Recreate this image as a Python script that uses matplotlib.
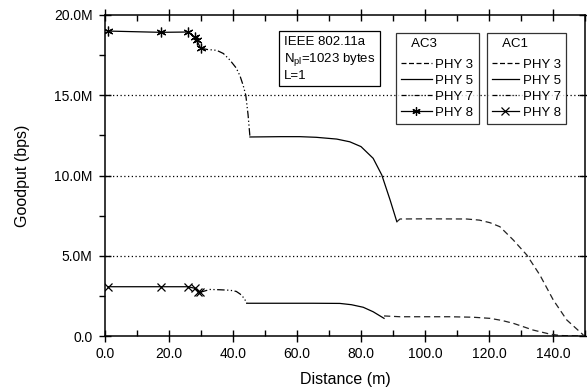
import matplotlib
matplotlib.use("Agg")
import matplotlib.pyplot as plt
from matplotlib.lines import Line2D
from matplotlib.ticker import MultipleLocator

plt.rcParams['font.family'] = ['Liberation Sans', 'DejaVu Sans']

# ---- data (goodput in Mbps, distance in m) ----
ac3_phy8_x = [0.8, 17.5, 26.0, 28.1, 28.6, 29.9]
ac3_phy8_y = [19.0, 18.92, 18.94, 18.6, 18.45, 17.93]
ac3_phy7_x = [29.9, 32.0, 34.9, 37.0, 39.0, 41.0, 42.2, 43.2, 44.0, 44.7, 45.3]
ac3_phy7_y = [17.93, 17.85, 17.8, 17.6, 17.2, 16.7, 16.2, 15.6, 15.0, 13.8, 12.4]
ac3_phy5_x = [45.3, 55.0, 60.9, 66.0, 72.4, 76.5, 80.0, 83.8, 86.5, 89.1, 91.2]
ac3_phy5_y = [12.4, 12.42, 12.42, 12.38, 12.27, 12.1, 11.8, 11.07, 10.03, 8.47, 7.12]
ac3_phy3_x = [91.2, 92.2, 100.0, 113.0, 117.0, 120.3, 123.4, 127.6, 131.8, 135.9, 140.1, 144.3, 149.5]
ac3_phy3_y = [7.12, 7.29, 7.3, 7.29, 7.22, 7.06, 6.81, 5.98, 5.05, 3.8, 2.24, 1.0, 0.06]

ac1_phy8_x = [1.0, 17.5, 26.0, 28.1, 29.2, 29.7]
ac1_phy8_y = [3.07, 3.07, 3.07, 2.97, 2.76, 2.72]
ac1_phy7_x = [29.7, 32.8, 36.0, 39.1, 41.0, 42.2, 43.5, 44.3]
ac1_phy7_y = [2.72, 2.9, 2.88, 2.85, 2.78, 2.62, 2.35, 2.04]
ac1_phy5_x = [44.3, 55.0, 65.0, 73.4, 77.0, 80.7, 83.8, 87.2]
ac1_phy5_y = [2.04, 2.04, 2.04, 2.03, 1.95, 1.79, 1.51, 1.1]
ac1_phy3_x = [87.2, 92.2, 107.8, 115.0, 120.3, 124.0, 127.6, 133.8, 139.0, 142.2, 148.0]
ac1_phy3_y = [1.25, 1.2, 1.2, 1.17, 1.1, 0.97, 0.79, 0.37, 0.12, 0.03, 0.0]

x_ticks = [0, 20, 40, 60, 80, 100, 120, 140]
y_ticks = [0, 5, 10, 15, 20]

M = 1e6
fig = plt.figure(figsize=(5.87, 3.92), dpi=100)
ax = fig.add_axes([105/587, 1-336/392, 480/587, 321/392])

dashdot = (0, (6, 2, 1, 2, 1, 2))
ax.plot(ac3_phy8_x, [v*M for v in ac3_phy8_y], color='black', lw=0.9,
        marker=(6, 2, 0), ms=7, mew=0.9)
ax.plot(ac3_phy7_x, [v*M for v in ac3_phy7_y], color='black', lw=0.9, ls=dashdot)
ax.plot(ac3_phy5_x, [v*M for v in ac3_phy5_y], color='black', lw=0.9, ls='-')
ax.plot(ac3_phy3_x, [v*M for v in ac3_phy3_y], color='#222222', lw=0.9, ls=(0, (5, 3)))

ax.plot(ac1_phy8_x, [v*M for v in ac1_phy8_y], color='black', lw=0.9,
        marker='x', ms=6, mew=0.9)
ax.plot(ac1_phy7_x, [v*M for v in ac1_phy7_y], color='black', lw=0.9, ls=dashdot)
ax.plot(ac1_phy5_x, [v*M for v in ac1_phy5_y], color='black', lw=0.9, ls='-')
ax.plot(ac1_phy3_x, [v*M for v in ac1_phy3_y], color='#222222', lw=0.9, ls=(0, (5, 3)))

ax.set_xlim(0, 150)
ax.set_ylim(0, 20*M)
ax.set_xticks(x_ticks)
ax.set_xticklabels([f"{v:.1f}" for v in x_ticks])
ax.xaxis.set_minor_locator(MultipleLocator(10))
ax.set_yticks([v*M for v in y_ticks])
ax.set_yticklabels(["0.0" if v == 0 else f"{v:.1f}M" for v in y_ticks])
ax.yaxis.set_minor_locator(MultipleLocator(2.5*M))

for g in [5, 10, 15]:
    ax.axhline(g*M, color='black', lw=0.9, ls=(0, (1, 2)), zorder=0)

ax.tick_params(axis='both', which='major', direction='inout', length=8, width=1,
               labelsize=10, top=True, right=True, pad=4)
ax.tick_params(axis='y', which='major', pad=5)
ax.tick_params(axis='both', which='minor', direction='in', length=4, width=1,
               top=True, right=False)
ax.tick_params(axis='y', which='minor', direction='out')
for s in ax.spines.values():
    s.set_linewidth(1.1)

ax.set_xlabel("Distance (m)", fontsize=11.5, labelpad=8)
ax.set_ylabel("Goodput (bps)", fontsize=11.5, labelpad=17)

ax.text(0.372, 0.935, "IEEE 802.11a\nN$_{\\mathregular{pl}}$=1023 bytes\nL=1",
        transform=ax.transAxes, fontsize=9.5, va='top', ha='left', linespacing=1.25,
        bbox=dict(boxstyle='square,pad=0.35', fc='white', ec='black', lw=0.9))

def handles(marker):
    return [Line2D([], [], color='black', lw=0.9, ls=(0, (4, 2))),
            Line2D([], [], color='black', lw=0.9, ls='-'),
            Line2D([], [], color='black', lw=0.9, ls=(0, (4, 1.5, 1, 1.5, 1, 1.5))),
            Line2D([], [], color='black', lw=0.9, marker=marker, ms=6, mew=0.9)]

labels = ["PHY 3", "PHY 5", "PHY 7", "PHY 8"]
leg_kw = dict(fontsize=9.5, frameon=True, fancybox=False, edgecolor='black',
              handletextpad=0.3, labelspacing=0.3,
              borderpad=0.4, borderaxespad=0, title_fontsize=9.5,
              bbox_transform=ax.transAxes, loc='upper left')
leg1 = ax.legend(handles((6, 2, 0)), labels, title="   AC3", handlelength=2.3,
                 bbox_to_anchor=(0.606, 0.945), **leg_kw)
leg1._legend_box.align = 'left'
leg1._legend_box.sep = 6
leg1.get_frame().set_linewidth(0.9)
ax.add_artist(leg1)
leg2 = ax.legend(handles('x'), labels, title="   AC1", handlelength=2.05,
                 bbox_to_anchor=(0.795, 0.945), **leg_kw)
leg2._legend_box.align = 'left'
leg2._legend_box.sep = 6
leg2.get_frame().set_linewidth(0.9)

fig.savefig("out.png", dpi=100)
